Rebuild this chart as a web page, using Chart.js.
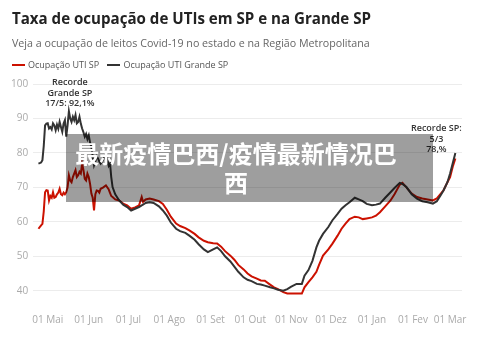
<!DOCTYPE html>
<html lang="pt">
<head>
  <meta charset="UTF-8">
  <title>Taxa de ocupação de UTIs em SP e na Grande SP</title>
  <script src="https://cdn.jsdelivr.net/npm/chart.js@4.4.0/dist/chart.umd.min.js"></script>
  <style>
    body { margin: 0; padding: 0; background: #fff; font-family: "Open Sans", sans-serif; }
    #wrap { position: relative; width: 500px; height: 338px; overflow: hidden; }
    #title { position: absolute; left: 12px; top: 8px; font-size: 15.1px; font-weight: 700; color: #222; white-space: nowrap; }
    #subtitle { position: absolute; left: 12px; top: 36px; font-size: 10.7px; color: #666; white-space: nowrap; }
    #legend { position: absolute; left: 12px; top: 58px; font-size: 9px; color: #555; white-space: nowrap; }
    #legend span.sw { display: inline-block; width: 13px; height: 2px; vertical-align: middle; margin-right: 3px; position: relative; top: -1px; }
    #legend span.item { margin-right: 6px; }
    canvas { position: absolute; left: 0; top: 0; }
    #overlay {
      position: absolute; left: 66px; top: 134px; width: 367px; height: 68px;
      background: rgba(0, 0, 0, 0.38);
    }
    #overlay div {
      position: absolute; left: 0; top: 4px; width: 340px; text-align: center;
      color: #fff; font-family: "Noto Sans CJK SC", sans-serif; font-weight: 700;
      font-size: 24px; line-height: 29px;
    }
  </style>
</head>
<body>
<div id="wrap">
  <canvas id="chart" width="500" height="338"></canvas>
  <div id="title">Taxa de ocupação de UTIs em SP e na Grande SP</div>
  <div id="subtitle">Veja a ocupação de leitos Covid-19 no estado e na Região Metropolitana</div>
  <div id="legend">
    <span class="item"><span class="sw" style="background:#cc1100"></span>Ocupação UTI SP</span>
    <span class="item"><span class="sw" style="background:#333"></span>Ocupação UTI Grande SP</span>
  </div>
  <div id="overlay"><div>最新疫情巴西/疫情最新情况巴<br>西</div></div>
</div>

<script>
  // days counted from 01 Mai 2020
  const days = [-7, -5, -4, -3, -2, -1, 0, 1, 2, 3, 4, 5, 6, 7, 8, 9, 10, 11, 12, 13, 14, 15, 16, 17, 18, 19, 20,
    21, 22, 23, 24, 25, 26, 27, 28, 29, 30, 31, 32, 33, 34, 35, 36, 37, 38, 39, 40, 42, 44, 46, 47, 48, 49, 51,
    54, 57, 60, 63, 66, 69, 71, 72, 74, 77, 80, 84, 87, 90, 93, 97, 100, 104, 107, 111, 114, 118, 121, 125, 128,
    131, 134, 138, 141, 144, 148, 151, 154, 158, 161, 164, 168, 171, 174, 178, 181, 184, 188, 192, 194, 197, 200,
    203, 205, 208, 212, 215, 219, 222, 225, 228, 232, 235, 238, 241, 245, 248, 251, 255, 259, 262, 266, 268, 271,
    275, 279, 283, 287, 291, 294, 297, 299, 302, 304, 306, 308];

  const grandeSP = [76.9, 77.2, 77.9, 82, 88.0, 88.5, 88.6, 87.1, 87.5, 86.8, 88.6, 88.0, 86.6, 88.2, 87.0, 89.0, 87.5,
    86.1, 88.5, 89.5, 84.7, 88.0, 92.1, 90.0, 89.0, 90.5, 89.5, 91.0, 88.6, 89.0, 90.5, 88.5, 87.1, 86.0, 84.7, 85.5,
    84.0, 85.1, 83.0, 81.7, 79.0, 76.4, 77.5, 79.0, 78.4, 77.5, 76.9, 78.0, 79.8, 76.4, 77.4, 73.0, 70.1, 68.0,
    66.2, 65.0, 64.3, 63.3, 63.8, 64.3, 64.8, 65.0, 65.5, 65.7, 65.5, 64.5, 63.3, 61.8, 59.8, 58.0, 57.3, 56.8,
    56.0, 54.8, 53.5, 52.0, 51.2, 52.0, 52.6, 51.5, 50.0, 48.5, 47.0, 45.5, 43.9, 43.2, 42.8, 42.0, 41.8, 41.5,
    41.0, 40.7, 40.3, 40.0, 40.5, 41.2, 42.0, 42.0, 44.4, 46.0, 48.7, 52.6, 54.5, 56.5, 58.5, 60.4, 62.3, 63.8,
    64.8, 65.7, 67.0, 66.5, 66.0, 65.2, 64.8, 65.0, 65.3, 67.0, 68.6, 69.8, 71.3, 71.0, 70.1, 68.0, 66.7, 66.0,
    65.7, 65.3, 66.0, 67.8, 69.1, 71.5, 74.0, 77.0, 80.0];

  const sp = [58.0, 59.0, 59.4, 63, 68.6, 69.2, 69.1, 66.2, 67.5, 67.0, 68.6, 67.0, 67.2, 68.0, 68.5, 69.6, 68.0,
    67.7, 68.5, 68.0, 68.6, 70.0, 73.5, 72.0, 71.5, 73.0, 74.0, 75.0, 73.0, 73.5, 74.5, 74.0, 76.9, 75.0, 72.5,
    72.0, 74.0, 73.0, 71.0, 68.2, 67.0, 63.3, 68.0, 69.1, 69.0, 68.5, 69.6, 70.0, 70.6, 69.5, 68.5, 67.5, 67.2,
    66.5, 66.2, 65.3, 64.8, 63.8, 64.2, 64.8, 67.2, 65.8, 66.5, 66.8, 66.5, 66.0, 65.2, 63.5, 61.5, 59.5, 58.8,
    58.2, 57.5, 56.5, 55.5, 54.5, 54.1, 53.8, 53.7, 52.8, 51.5, 50.2, 49.0, 47.5, 46.2, 45.0, 44.2, 43.5, 43.0,
    42.9, 41.8, 41.0, 40.5, 39.6, 39.2, 39.2, 39.2, 39.2, 41.0, 42.5, 43.9, 45.5, 47.5, 50.2, 52.0, 53.6, 56.0,
    58.0, 59.5, 60.8, 61.5, 61.3, 60.8, 61.0, 61.3, 61.8, 62.8, 64.5, 66.2, 68.0, 70.8, 71.3, 70.0, 68.2, 67.2,
    66.8, 66.5, 66.2, 66.8, 68.2, 69.1, 71.5, 73.0, 76.0, 78.4];

  const tickDays = [0, 31, 61, 92, 123, 153, 184, 214, 245, 276, 304];
  const tickLabels = ['01 Mai', '01 Jun', '01 Jul', '01 Ago', '01 Set', '01 Out', '01 Nov', '01 Dez', '01 Jan', '01 Fev', '01 Mar'];
  const yTicks = [40, 50, 60, 70, 80, 90, 100];

  const recordGrande = ['Recorde', 'Grande SP', '17/5: 92,1%'];
  const recordSP = ['Recorde SP:', '5/3', '78,%'];

  // draws the two record labels, anchored to the data points
  const notes = {
    id: 'notes',
    afterDatasetsDraw(chart) {
      const ctx = chart.ctx;
      const xs = chart.scales.x, ys = chart.scales.y;
      ctx.save();
      ctx.font = '600 9px "Open Sans"';
      ctx.fillStyle = '#333';
      ctx.textAlign = 'center';
      ctx.textBaseline = 'alphabetic';

      const iPeak = grandeSP.indexOf(Math.max(...grandeSP));
      let px = xs.getPixelForValue(days[iPeak]);
      let py = ys.getPixelForValue(grandeSP[iPeak]) - 5;
      recordGrande.slice().reverse().forEach((t, k) => ctx.fillText(t, px + 1, py - k * 10.4));

      const iEnd = sp.length - 1;
      px = xs.getPixelForValue(days[iEnd]) - 19;
      py = ys.getPixelForValue(sp[iEnd]) - 6;
      recordSP.slice().reverse().forEach((t, k) => ctx.fillText(t, px, py - k * 10.6));
      ctx.restore();
    }
  };

  new Chart(document.getElementById('chart'), {
    type: 'line',
    data: {
      datasets: [
        {
          label: 'Ocupação UTI SP',
          data: days.map((d, i) => ({ x: d, y: sp[i] })),
          borderColor: '#cc1100',
          borderWidth: 2,
          pointRadius: 0,
          tension: 0,
          order: 2
        },
        {
          label: 'Ocupação UTI Grande SP',
          data: days.map((d, i) => ({ x: d, y: grandeSP[i] })),
          borderColor: '#333333',
          borderWidth: 2,
          pointRadius: 0,
          tension: 0,
          order: 1
        }
      ]
    },
    options: {
      responsive: false,
      animation: false,
      layout: { padding: { top: 84, left: 6, right: 38, bottom: 6 } },
      plugins: { legend: { display: false }, tooltip: { enabled: false } },
      scales: {
        x: {
          type: 'linear',
          min: -11,
          max: 313,
          grid: { display: false, drawTicks: false },
          border: { display: false },
          afterBuildTicks: (scale) => { scale.ticks = tickDays.map(v => ({ value: v })); },
          ticks: {
            autoSkip: false,
            maxRotation: 0,
            padding: 6,
            color: '#aaa',
            font: { family: 'Open Sans', size: 10 },
            callback: (v) => tickLabels[tickDays.indexOf(v)]
          }
        },
        y: {
          min: 35,
          max: 100,
          grid: { color: '#ececec', lineWidth: 1, drawTicks: false },
          border: { display: false },
          afterBuildTicks: (scale) => { scale.ticks = yTicks.map(v => ({ value: v })); },
          ticks: {
            padding: 5,
            color: '#aaa',
            font: { family: 'Open Sans', size: 10 }
          }
        }
      }
    },
    plugins: [notes]
  });
</script>
</body>
</html>
